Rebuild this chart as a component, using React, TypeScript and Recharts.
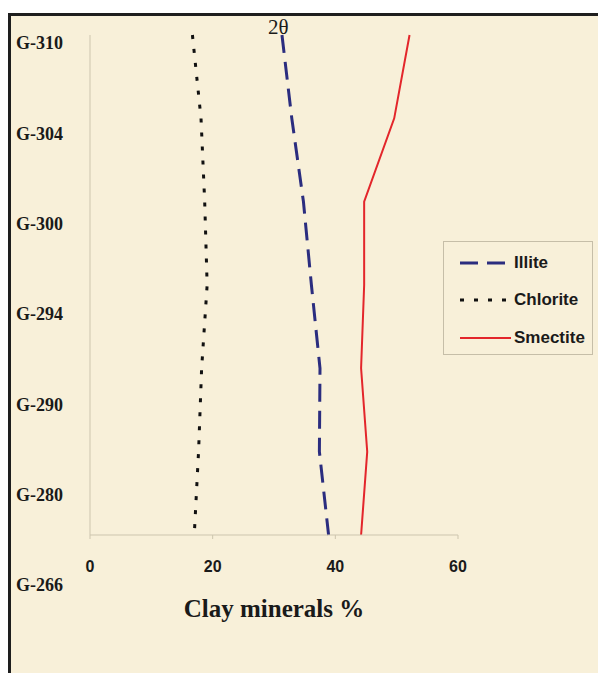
import { Label, Legend, Line, LineChart, XAxis, YAxis } from "recharts"

const samples = ["G-310", "G-304", "G-300", "G-294", "G-290", "G-280", "G-266"]
const illite = [31.3, 32.9, 34.8, 36.1, 37.5, 37.4, 38.9]
const chlorite = [16.7, 18.1, 18.7, 19.1, 18.2, 17.7, 17.0]
const smectite = [52.1, 49.6, 44.7, 44.7, 44.2, 45.2, 44.2]
const seriesOrder = ["Illite", "Chlorite", "Smectite"]
const xTicks = [0, 20, 40, 60]

const data = samples.map((sample, i) => ({
  sample,
  Illite: illite[i],
  Chlorite: chlorite[i],
  Smectite: smectite[i],
}))

const axisColor = "#cdc5ae"

function LegendBox({ payload }: any) {
  const items = [...(payload || [])].sort(
    (a: any, b: any) => seriesOrder.indexOf(a.value) - seriesOrder.indexOf(b.value)
  )
  return (
    <div
      style={{
        width: 150,
        height: 114,
        boxSizing: "border-box",
        border: "1px solid #c6bea8",
        paddingTop: 2,
      }}
    >
      {items.map((entry: any) => (
        <div
          key={entry.value}
          style={{ height: 37.5, display: "flex", alignItems: "center" }}
        >
          <svg width={70} height={10}>
            <line
              x1={16}
              x2={67}
              y1={5}
              y2={5}
              stroke={entry.color}
              strokeWidth={entry.payload.strokeWidth}
              strokeDasharray={entry.payload.strokeDasharray}
            />
          </svg>
          <span
            style={{
              fontFamily: "Liberation Sans, Arial, sans-serif",
              fontWeight: "bold",
              fontSize: 17,
              color: "#1a1a1a",
            }}
          >
            {entry.value}
          </span>
        </div>
      ))}
    </div>
  )
}

export default function App() {
  return (
    <div
      style={{
        position: "fixed",
        left: 8,
        top: 13,
        width: 590,
        height: 660,
        boxSizing: "border-box",
        borderLeft: "3px solid #1e1e1e",
        borderTop: "3px solid #1e1e1e",
        background: "#f8f0d9",
      }}
    >
      <div style={{ position: "absolute", left: 0, top: 0 }}>
        <LineChart
          width={587}
          height={657}
          data={data}
          layout="vertical"
          margin={{ top: 19, right: 140, bottom: 78, left: 2 }}
        >
          <XAxis
            type="number"
            domain={[0, 60]}
            ticks={xTicks}
            height={60}
            stroke={axisColor}
            tickSize={4}
            tickMargin={22}
            tick={{
              fill: "#1a1a1a",
              fontSize: 16,
              fontWeight: "bold",
              fontFamily: "Liberation Sans, Arial, sans-serif",
            }}
          >
            <Label
              value="Clay minerals %"
              position="bottom"
              offset={4}
              style={{
                fill: "#1a1a1a",
                fontSize: 25,
                fontWeight: "bold",
                fontFamily: "Liberation Serif, Times New Roman, serif",
              }}
            />
          </XAxis>
          <YAxis
            yAxisId="axis"
            type="category"
            dataKey="sample"
            width={27}
            stroke={axisColor}
            tickSize={4}
            tick={false}
          />
          <YAxis
            yAxisId="names"
            type="category"
            dataKey="sample"
            width={50}
            axisLine={false}
            tickLine={false}
            tickSize={0}
            tickMargin={0}
            padding={{ top: 8, bottom: -50 }}
            interval={0}
            tick={{
              fill: "#1a1a1a",
              fontSize: 18,
              fontWeight: "bold",
              fontFamily: "Liberation Serif, Times New Roman, serif",
            }}
          />
          <Legend
            layout="vertical"
            align="center"
            verticalAlign="middle"
            content={<LegendBox />}
            wrapperStyle={{ position: "absolute", left: 432, top: 225, width: 150 }}
          />
          <Line
            yAxisId="axis"
            dataKey="Illite"
            stroke="#2b2d7f"
            strokeWidth={3}
            strokeDasharray="18 9"
            dot={false}
            isAnimationActive={false}
          />
          <Line
            yAxisId="axis"
            dataKey="Chlorite"
            stroke="#111111"
            strokeWidth={3}
            strokeDasharray="4 10"
            dot={false}
            isAnimationActive={false}
          />
          <Line
            yAxisId="axis"
            dataKey="Smectite"
            stroke="#e3262b"
            strokeWidth={2}
            dot={false}
            isAnimationActive={false}
          />
        </LineChart>
      </div>
      <div
        style={{
          position: "absolute",
          left: 257,
          top: 1,
          fontFamily: "Liberation Serif, Times New Roman, serif",
          fontSize: 21,
          lineHeight: "21px",
          color: "#1a1a1a",
        }}
      >
        2θ
      </div>
    </div>
  )
}
